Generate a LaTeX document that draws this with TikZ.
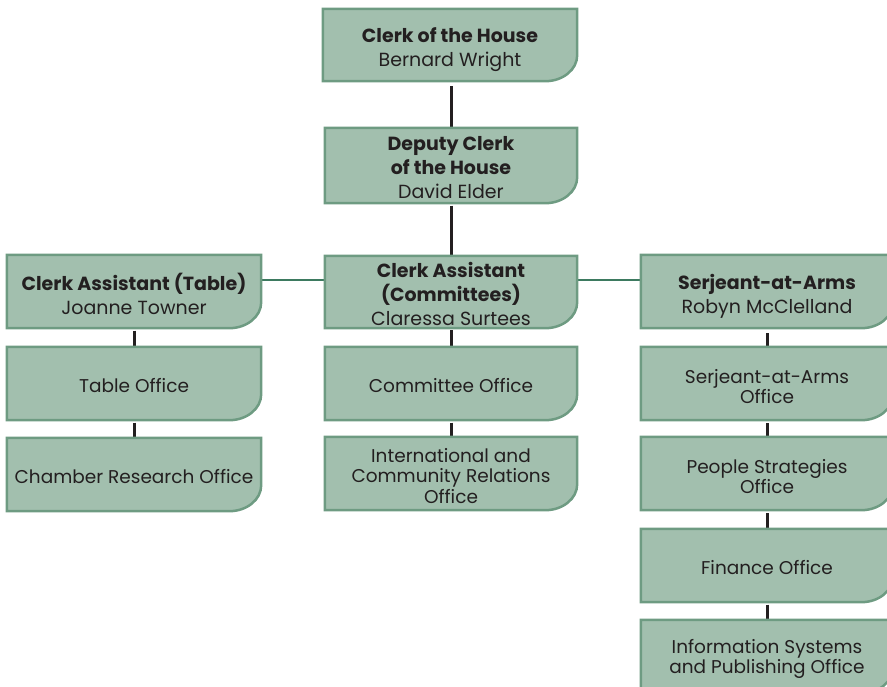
\documentclass[tikz,border=0pt]{standalone}
\usepackage{fontspec}
\setmainfont{Poppins}
\usetikzlibrary{backgrounds}
\definecolor{boxfill}{HTML}{A2BFAE}
\definecolor{boxline}{HTML}{6E9B82}
\definecolor{linkc}{HTML}{3D7A60}
\definecolor{ink}{HTML}{231F20}
\tikzset{
  box/.style={minimum width=253pt, minimum height=73pt, inner sep=0pt, align=center, text=ink, font=\fontsize{19}{24}\selectfont},
  office/.style={box, font=\fontsize{18.5}{20.5}\selectfont},
  boxshape/.style={fill=boxfill, draw=boxline, line width=2.5pt},
  vline/.style={draw=ink, line width=3pt},
  hline/.style={draw=linkc, line width=2.5pt},
}
% #1 node name, #2 upward offset of the drawn box relative to the node
\newcommand{\shapeof}[2]{\path[boxshape] ([yshift=#2pt]#1.north west) -- ([yshift=#2pt]#1.north east) -- ([yshift={(26+#2)*1pt}]#1.south east) .. controls ([yshift={(11.6+#2)*1pt}]#1.south east) and ([xshift=-14.3pt,yshift=#2pt]#1.south east) .. ([xshift=-32pt,yshift=#2pt]#1.south east) -- ([yshift=#2pt]#1.south west) -- cycle;}
\begin{document}
\begin{tikzpicture}[x=1pt,y=1pt]
\useasboundingbox (0,0) rectangle (887,-687);
\node[box, minimum width=254pt, minimum height=72pt] (clerk) at (450,-50) {\textbf{Clerk of the House}\\Bernard Wright};
\node[box, minimum width=252pt, minimum height=75pt] (deputy) at (451,-168) {\textbf{Deputy Clerk}\\\textbf{of the House}\\David Elder};
\node[box, minimum width=252pt, minimum height=72pt] (com) at (451,-294) {\textbf{Clerk Assistant}\\\textbf{(Committees)}\\Claressa Surtees};
\node[box, minimum width=254pt] (tab) at (134,-294) {\textbf{Clerk Assistant (Table)}\\Joanne Towner};
\node[box, minimum width=252pt] (serj) at (767,-296.5) {\textbf{Serjeant-at-Arms}\\Robyn McClelland};
\node[office, minimum width=254pt] (taboff) at (134,-386) {Table Office};
\node[office, minimum width=254pt] (cham) at (134,-477) {Chamber Research Office};
\node[office, minimum width=252pt] (comoff) at (451,-386) {Committee Office};
\node[office, minimum width=252pt] (intl) at (451,-476) {International and\\Community Relations\\Office};
\node[office, minimum width=252pt] (serjoff) at (767,-386.5) {Serjeant-at-Arms\\Office};
\node[office, minimum width=252pt] (people) at (767,-476.5) {People Strategies\\Office};
\node[office, minimum width=252pt] (fin) at (767,-568) {Finance Office};
\node[office, minimum width=252pt] (info) at (767,-659) {Information Systems\\and Publishing Office};
\begin{scope}[on background layer]
  \draw[vline] (clerk.south -| deputy.north) -- (deputy.north);
  \draw[vline] (deputy.south) -- (com.north);
  \draw[vline] (tab.south) -- (taboff.north);
  \draw[vline] (taboff.south) -- (cham.north);
  \draw[vline] (com.south) -- (comoff.north);
  \draw[vline] (comoff.south) -- (intl.north);
  \draw[vline] (serj.south) -- (serjoff.north);
  \draw[vline] (serjoff.south) -- (people.north);
  \draw[vline] (people.south) -- (fin.north);
  \draw[vline] (fin.south) -- (info.north);
  \draw[hline] ([yshift=-22.5pt]tab.north east) -- ([yshift=-22pt]com.north west);
  \draw[hline] ([yshift=-22pt]com.north east) -- ([yshift=-20pt]serj.north west);
  \foreach \n/\o in {clerk/5,deputy/2.5,com/2,tab/2.5,serj/5,taboff/2.5,cham/2.5,comoff/2.5,intl/2.5,serjoff/3,people/3,fin/2.5,info/2.5} {\shapeof{\n}{\o}}
\end{scope}
\end{tikzpicture}
\end{document}
